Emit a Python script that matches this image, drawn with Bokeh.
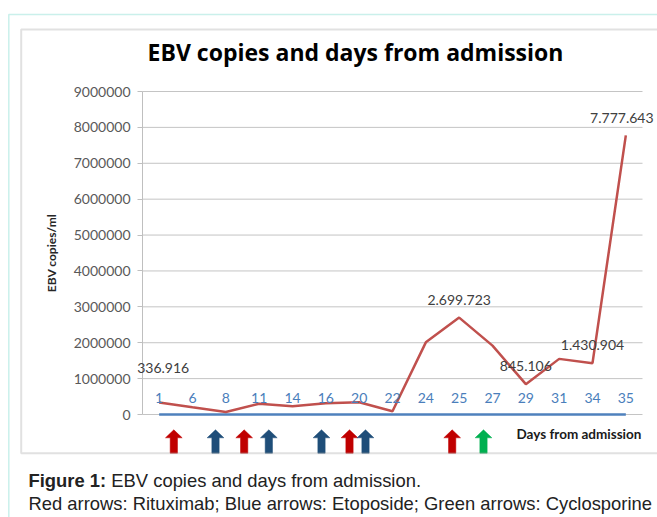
from bokeh.plotting import figure
from bokeh.models import (Range1d, FixedTicker, NumeralTickFormatter, BoxAnnotation,
                          Label, LabelSet, ColumnDataSource)
from bokeh.core.properties import value
from bokeh.embed import file_html
from bokeh.resources import INLINE

# ---------------- data ----------------
days = ["1", "6", "8", "11", "14", "16", "20", "22", "24", "25", "27", "29", "31", "34", "35"]
ebv_copies = [336916, 200000, 70000, 300000, 230000, 315000, 340000, 90000,
              2010000, 2699723, 1920000, 845106, 1550000, 1430904, 7777643]
baseline_series = [0] * len(days)
labelled_days = ["1", "25", "29", "34", "35"]
y_ticks = [0, 1000000, 2000000, 3000000, 4000000, 5000000, 6000000, 7000000, 8000000, 9000000]
# arrows: position along the category axis (category index) and the drug given
arrow_pos = [0.44, 1.69, 2.55, 3.29, 4.87, 5.71, 6.19, 8.79, 9.73]
arrow_drug = ["Rituximab", "Etoposide", "Rituximab", "Etoposide", "Etoposide",
              "Rituximab", "Etoposide", "Rituximab", "Cyclosporine"]

# ---------------- layout / styles ----------------
drug_colors = {"Rituximab": "#c00000", "Etoposide": "#1f4e79", "Cyclosporine": "#00b050"}
label_dx = [4, 0, 0, 0, -4]
label_dy = [34, 18, 18, 18, 17]

W, H = 657, 517
PL, PR, PT, P0 = 142.0, 642.0, 91.0, 414.0     # plot-area edges (px): left, right, top, zero line
n = len(days)
ux = (PR - PL) / n                 # px per category
uy = (P0 - PT) / y_ticks[-1]       # px per copy
x_start = -0.5 - PL / ux
x_end = n - 0.5 + (W - PR) / ux
y_end = y_ticks[-1] + PT / uy
y_start = -(H - P0) / uy
idx = list(range(n))

p = figure(width=W, height=H, output_backend="svg", toolbar_location=None,
           x_range=Range1d(x_start, x_end), y_range=Range1d(y_start, y_end),
           x_axis_type=None, min_border=0, outline_line_color=None,
           background_fill_color="white", border_fill_color="white")

# y axis, drawn at the left edge of the plot area
ax = p.yaxis[0]
ax.fixed_location = -0.5
ax.ticker = FixedTicker(ticks=y_ticks)
ax.formatter = NumeralTickFormatter(format="0")
ax.bounds = (0, y_ticks[-1])
ax.axis_line_color = "#bfbfbf"
ax.major_tick_line_color = "#bfbfbf"
ax.major_tick_out = 5
ax.major_tick_in = 0
ax.minor_tick_line_color = None
ax.major_label_text_font = "Lato"
ax.major_label_text_font_size = "14px"
ax.major_label_text_color = "#595959"
ax.major_label_standoff = 7
ax.axis_label = "EBV copies/ml"
ax.axis_label_text_font = "Lato"
ax.axis_label_text_font_style = "bold"
ax.axis_label_text_font_size = "12px"
ax.axis_label_text_color = "#262626"
ax.axis_label_standoff = 12
p.grid.visible = False

# horizontal gridlines across the plot area only
p.segment(x0=[-0.5] * len(y_ticks), x1=[n - 0.5] * len(y_ticks), y0=y_ticks, y1=y_ticks,
          line_color="#c4c4c4", line_width=1)

# series
p.line(x=idx, y=baseline_series, line_color="#4f81bd", line_width=2.5)
p.line(x=idx, y=ebv_copies, line_color="#c0504d", line_width=2.5)

# category labels
cat_src = ColumnDataSource(dict(x=idx, y=baseline_series, t=days))
p.add_layout(LabelSet(x="x", y="y", text="t", source=cat_src, y_offset=17,
                      text_align="center", text_baseline="middle",
                      text_font=value("Lato"), text_font_size="14px", text_color="#4a7ebb"))

# data labels
lab_i = [days.index(d) for d in labelled_days]
lab_v = [ebv_copies[i] for i in lab_i]
lab_t = [f"{v:,}".replace(",", ".") for v in lab_v]
lab_src = ColumnDataSource(dict(x=lab_i, y=lab_v, t=lab_t, dx=label_dx, dy=label_dy))
p.add_layout(LabelSet(x="x", y="y", text="t", source=lab_src, x_offset="dx", y_offset="dy",
                      text_align="center", text_baseline="middle",
                      text_font=value("Lato"), text_font_size="14px", text_color="#404040"))

# arrows (block arrows below the axis)
hs, hh = 3.65 / ux, 8.35 / ux
y_top, y_base, y_bot = -15.3 / uy, -23.3 / uy, -38.7 / uy
xs, ys, cols = [], [], []
for c, d in zip(arrow_pos, arrow_drug):
    xs.append([c - hs, c - hs, c - hh, c, c + hh, c + hs, c + hs])
    ys.append([y_bot, y_base, y_base, y_top, y_base, y_base, y_bot])
    cols.append(drug_colors[d])
p.patches(xs=xs, ys=ys, fill_color=cols, line_color=cols, line_width=0.5)

# frames (canvas units: x from left, y from top)
p.add_layout(BoxAnnotation(left=8.3, right=900, top=14, bottom=900,
                           left_units="canvas", right_units="canvas",
                           top_units="canvas", bottom_units="canvas",
                           fill_color=None, line_color="#4fcdbd", line_width=1.5))
p.add_layout(BoxAnnotation(left=20.7, right=900, top=29, bottom=452.7,
                           left_units="canvas", right_units="canvas",
                           top_units="canvas", bottom_units="canvas",
                           fill_color=None, line_color="#9a9a9a", line_width=2))

# texts
def canvas_label(**kw):
    return Label(x_units="canvas", y_units="canvas", **kw)

p.add_layout(canvas_label(x=358, y=51, text="EBV  copies and days from admission",
                          text_align="center", text_baseline="alphabetic", text_font="Open Sans",
                          text_font_style="bold", text_font_size="23px", text_color="#000000"))
p.add_layout(canvas_label(x=516, y=433, text="Days from admission", text_align="left",
                          text_baseline="middle", text_font="Lato", text_font_style="bold",
                          text_font_size="13.5px", text_color="#1a1a1a"))
cap_size = 18.4
cap_x = 28
p.add_layout(canvas_label(x=cap_x, y=480, text="Figure 1:", text_align="left",
                          text_baseline="alphabetic", text_font="Liberation Sans",
                          text_font_style="bold", text_font_size=f"{cap_size}px",
                          text_color="#222222"))
p.add_layout(canvas_label(x=cap_x + 4.50 * cap_size, y=480,
                          text="EBV copies and days from admission.", text_align="left",
                          text_baseline="alphabetic", text_font="Liberation Sans",
                          text_font_size=f"{cap_size}px", text_color="#222222"))
p.add_layout(canvas_label(x=cap_x, y=502.5,
                          text="Red arrows: Rituximab; Blue arrows: Etoposide; Green arrows: Cyclosporine",
                          text_align="left", text_baseline="alphabetic", text_font="Liberation Sans",
                          text_font_size=f"{cap_size}px", text_color="#222222"))

open("out.html", "w").write(file_html(p, INLINE))
